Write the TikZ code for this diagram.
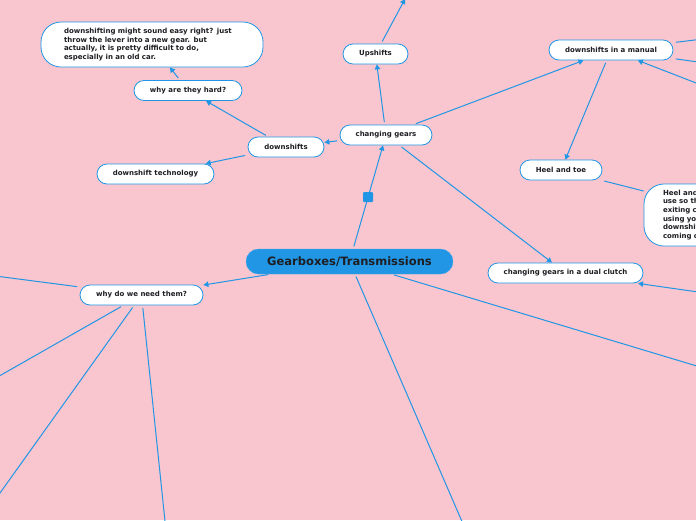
\documentclass[tikz,border=0pt]{standalone}
\usepackage{fontspec}
\setmainfont{DejaVu Sans}
\usepackage{xcolor}
\usepackage{tikz}
\usetikzlibrary{arrows.meta}
\definecolor{bgpink}{RGB}{249,198,208}
\definecolor{mapblue}{RGB}{33,150,228}
\definecolor{inkdark}{RGB}{30,30,35}
\tikzset{
  topic/.style={draw=mapblue, fill=white, line width=0.8pt, rounded corners=10pt,
    minimum height=20pt, inner sep=0pt, text=inkdark,
    font=\bfseries\fontsize{7}{8}\selectfont},
  notebox/.style={draw=mapblue, fill=white, line width=0.8pt, rounded corners=20pt,
    inner ysep=0pt, align=left, text=inkdark,
    font=\bfseries\fontsize{7}{8.7}\selectfont},
  link/.style={mapblue, line width=1pt, shorten <=2.5pt},
  arrowed/.style={-{Triangle[length=5pt,width=5.5pt]}},
  knob/.style={fill=mapblue, minimum size=10pt, inner sep=0pt, rounded corners=1pt},
}
\begin{document}
\begin{tikzpicture}[x=1pt,y=-1pt]
  % Background and frame
  \fill[bgpink] (0,0) rectangle (696,520);
  \useasboundingbox (0,0) rectangle (696,520);
  \clip (0,0) rectangle (696,520);

  % Central topic
  \node[fill=mapblue, draw=mapblue!85!white, rounded corners=12.5pt, minimum width=207pt,
    minimum height=25pt, inner sep=0pt, text=inkdark,
    font=\bfseries\fontsize{11.5}{13}\selectfont] (root) at (349.5,261.5) {Gearboxes/Transmissions};

  % Changing gears branch
  \node[topic, minimum width=92pt] (cg) at (386,135) {changing gears};
  \node[topic, minimum width=65pt] (up) at (375.5,54) {Upshifts};
  \node[topic, minimum width=124pt] (manual) at (611,50) {downshifts in a manual};
  \node[topic, minimum width=82pt] (heel) at (561,170) {Heel and toe};
  \node[notebox, text width=150pt, inner xsep=19pt, minimum height=62pt] (heeltext) at (738,215)
    {Heel and toe is a technique you\\use so that when you are\\exiting corners and you are\\using your heel to blip while\\downshifting, making your\\coming out of it smoother.};
  \node[topic, minimum width=155pt] (dual) at (565.5,273) {changing gears in a dual clutch};

  % Downshifts branch
  \node[topic, minimum width=76pt] (down) at (286,147) {downshifts};
  \node[topic, minimum width=108pt] (hard) at (188,90.5) {why are they hard?};
  \node[notebox, text width=176pt, inner xsep=23pt, minimum height=45pt] (hardtext) at (152,44.5)
    {downshifting might sound easy right? just\\throw the lever into a new gear. but\\actually, it is pretty difficult to do,\\especially in an old car.};
  \node[topic, minimum width=117pt] (tech) at (155.5,174) {downshift technology};

  % Why branch
  \node[topic, minimum width=123pt] (why) at (141.5,295) {why do we need them?};

  % Ends that run off the page
  \coordinate (upnext) at (405,-1);
  \coordinate (manA) at (720,37);
  \coordinate (manB) at (720,65);
  \coordinate (manC) at (740,100);
  \coordinate (dualin) at (740,298);
  \coordinate (rootE) at (720,373);
  \coordinate (rootS) at (470,540);
  \coordinate (whyA) at (-20,274);
  \coordinate (whyB) at (-20,387);
  \coordinate (whyC) at (-20,521);
  \coordinate (whyD) at (168,550);

  % Connectors
  \draw[link, arrowed] (root) -- node[knob] {} (cg);
  \draw[link, arrowed] (cg) -- (up);
  \draw[link, arrowed] (up) -- (upnext);
  \draw[link, arrowed] (cg) -- (manual);
  \draw[link, arrowed] (cg) -- (down);
  \draw[link, arrowed] (cg) -- (dual);
  \draw[link, arrowed] (manual) -- (heel);
  \draw[link] (heel) -- (heeltext);
  \draw[link] (manual) -- (manA);
  \draw[link] (manual) -- (manB);
  \draw[link, arrowed] (manC) -- (manual);
  \draw[link, arrowed] (dualin) -- (dual);
  \draw[link, arrowed] (down) -- (hard);
  \draw[link, arrowed] (hard) -- (hardtext);
  \draw[link, arrowed] (down) -- (tech);
  \draw[link, arrowed] (root) -- (why);
  \draw[link] (root) -- (rootE);
  \draw[link] (root) -- (rootS);
  \draw[link] (why) -- (whyA);
  \draw[link] (why) -- (whyB);
  \draw[link] (why) -- (whyC);
  \draw[link] (why) -- (whyD);
\end{tikzpicture}
\end{document}
